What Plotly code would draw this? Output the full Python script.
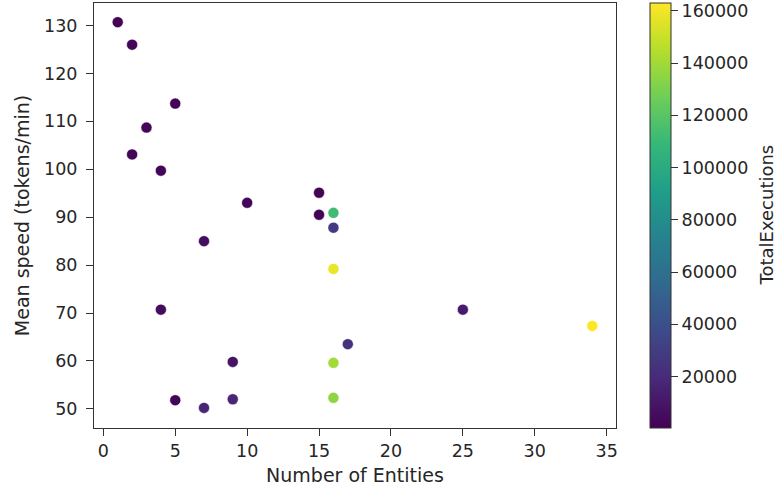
import plotly.graph_objects as go

# Data
num_entities = [1, 2, 5, 3, 2, 4, 10, 15, 15, 16, 16, 7, 16, 4, 25, 34, 17, 16, 9, 16, 5, 7, 9]
mean_speed = [130.7, 126.0, 113.7, 108.7, 103.1, 99.7, 93.0, 95.1, 90.5, 90.9, 87.8, 85.0,
              79.2, 70.7, 70.7, 67.3, 63.5, 59.6, 59.8, 52.3, 51.8, 50.2, 52.0]
total_executions = [1500, 2000, 1500, 2500, 2000, 2000, 2500, 1500, 1500, 112000, 29000, 6000,
                    158000, 5000, 13000, 163000, 24000, 140000, 8000, 135000, 2000, 17000, 17000]

cbar_ticks = [20000, 40000, 60000, 80000, 100000, 120000, 140000, 160000]
x_ticks = [0, 5, 10, 15, 20, 25, 30, 35]
y_ticks = [50, 60, 70, 80, 90, 100, 110, 120, 130]

FONT = "DejaVu Sans"
TXT = "#262626"
TICK_FS = 17.5
TITLE_FS = 19

fig = go.Figure(
    go.Scatter(
        x=num_entities,
        y=mean_speed,
        mode="markers",
        marker=dict(
            size=11,
            color=total_executions,
            colorscale="Viridis",
            cmin=300,
            cmax=163000,
            line=dict(color="rgba(255,255,255,0.8)", width=0.6),
            colorbar=dict(
                x=(650 - 94) / 522,
                xanchor="left",
                xpad=0,
                y=0.5,
                yanchor="middle",
                len=1,
                lenmode="fraction",
                ypad=0,
                thickness=21,
                outlinewidth=1,
                outlinecolor="#333",
                ticks="outside",
                ticklen=7,
                tickcolor="#333",
                tickvals=cbar_ticks,
                ticktext=[str(v) for v in cbar_ticks],
                tickfont=dict(family=FONT, size=TICK_FS, color=TXT),
            ),
        ),
        showlegend=False,
    )
)

axis_common = dict(
    showgrid=False,
    zeroline=False,
    showline=True,
    mirror=True,
    linecolor="#333",
    linewidth=1,
    ticks="outside",
    ticklen=7,
    tickcolor="#333",
    tickfont=dict(family=FONT, size=TICK_FS, color=TXT),
)

fig.update_layout(
    width=779,
    height=494,
    margin=dict(l=94, r=163, t=3, b=66),
    paper_bgcolor="white",
    plot_bgcolor="white",
    font=dict(family=FONT, size=TICK_FS, color=TXT),
    xaxis=dict(
        range=[-0.65, 35.65],
        tickvals=x_ticks,
        title=dict(text="Number of Entities", standoff=8,
                   font=dict(family=FONT, size=TITLE_FS, color=TXT)),
        **axis_common,
    ),
    yaxis=dict(
        range=[46.0, 134.7],
        tickvals=y_ticks,
        ticklabelstandoff=5,
        title=dict(text="Mean speed (tokens/min)", standoff=9,
                   font=dict(family=FONT, size=TITLE_FS, color=TXT)),
        **axis_common,
    ),
    annotations=[
        dict(
            text="TotalExecutions",
            xref="paper", yref="paper",
            x=(766 - 94) / 522, y=0.5,
            xanchor="center", yanchor="middle",
            textangle=-90,
            showarrow=False,
            borderpad=0,
            font=dict(family=FONT, size=18, color=TXT),
        )
    ],
)

fig.write_html("out.html")
